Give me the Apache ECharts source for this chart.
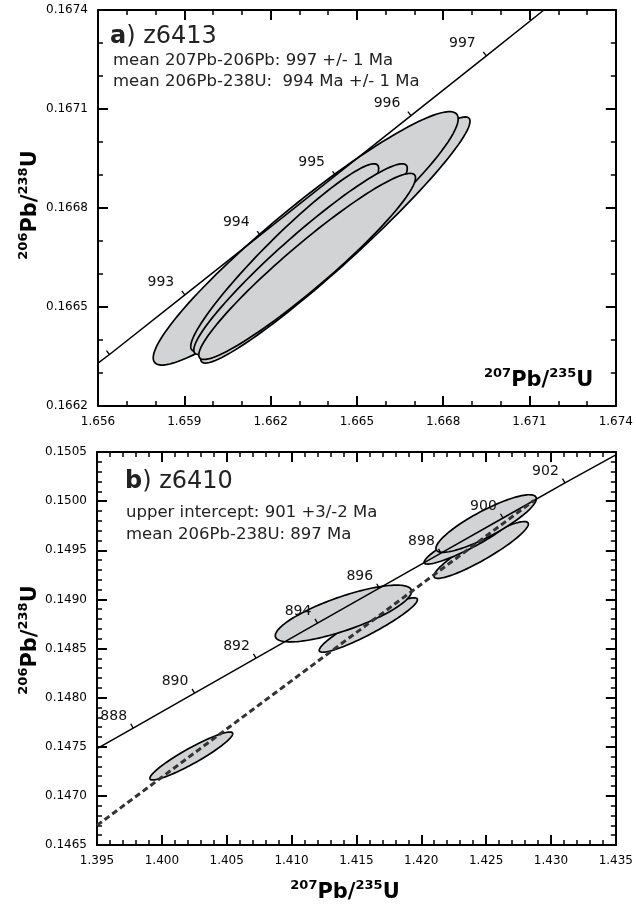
<!DOCTYPE html>
<html>
<head>
<meta charset="utf-8">
<script src="https://cdn.jsdelivr.net/npm/echarts@6.0.0/dist/echarts.min.js"></script>
<style>
  html, body { margin: 0; padding: 0; background: #fff; }
  #chart { width: 636px; height: 905px; }
</style>
</head>
<body>
<div id="chart"></div>
<script>
// ---- panel a (z6413) ----
const aLineStart = [1.656, 0.16633]
const aLineEnd = [1.6715, 0.1674]
const aAges = [992, 993, 994, 995, 996, 997]
const aAgeX = [1.6564, 1.65902, 1.66164, 1.66426, 1.66688, 1.6695]
const aAgeY = [0.166356, 0.166537, 0.166718, 0.166899, 0.16708, 0.167261]
const aAgeLabelled = [0, 1, 1, 1, 1, 1]
// cx, cy, 2s x, 2s y, rho  (drawing order)
const aEllipses = [
  [1.66425, 0.166703, 0.004682, 0.000373, 0.965],
  [1.66322, 0.166708, 0.005301, 0.000384, 0.943],
  [1.66249, 0.166650, 0.003267, 0.000284, 0.950],
  [1.66304, 0.166645, 0.003711, 0.000289, 0.952],
  [1.66327, 0.166623, 0.003767, 0.000282, 0.951]
]

// ---- panel b (z6410) ----
const bLineStart = [1.395, 0.14748]
const bLineEnd = [1.435, 0.15047]
const bAges = [888, 890, 892, 894, 896, 898, 900, 902]
const bAgeX = [1.39779, 1.40252, 1.40726, 1.41200, 1.41676, 1.42152, 1.42630, 1.43108]
const bAgeY = [0.147690, 0.148046, 0.148402, 0.148758, 0.149115, 0.149471, 0.149828, 0.150185]
const bDiscordia = [[1.395, 0.14670], [1.42869, 0.150006]]
const bEllipses = [
  [1.40227, 0.147406, 0.003192, 0.000244, 0.930],
  [1.41592, 0.148739, 0.003785, 0.000277, 0.928],
  [1.41400, 0.148856, 0.005254, 0.000289, 0.780],
  [1.42462, 0.149503, 0.003638, 0.000289, 0.915],
  [1.42350, 0.149589, 0.003277, 0.000230, 0.918],
  [1.42500, 0.149772, 0.003869, 0.000293, 0.862]
]

const FONT = 'DejaVu Sans'
const ELLIPSE_FILL = '#d2d3d5'

function ellipseItem(params, api) {
  const cx = api.value(0), cy = api.value(1)
  const sx = api.value(2), sy = api.value(3), r = api.value(4)
  const k = Math.sqrt(1 - r * r)
  const pts = []
  for (let i = 0; i < 120; i++) {
    const t = i / 120 * 2 * Math.PI
    pts.push(api.coord([cx + sx * Math.cos(t), cy + sy * (r * Math.cos(t) + k * Math.sin(t))]))
  }
  return {
    type: 'polygon',
    shape: { points: pts },
    style: { fill: ELLIPSE_FILL, stroke: '#000', lineWidth: 1.7 }
  }
}

function ageTicks(tick, lab) {
  return function(params, api) {
    const p = api.coord([api.value(0), api.value(1)])
    const children = [{
      type: 'line',
      shape: { x1: p[0], y1: p[1], x2: p[0] + tick[0], y2: p[1] + tick[1] },
      style: { stroke: '#000', lineWidth: 1.3 }
    }]
    if (api.value(3)) {
      children.push({
        type: 'text',
        style: {
          text: String(api.value(2)), x: p[0] + lab[0], y: p[1] + lab[1],
          align: 'center', verticalAlign: 'middle',
          fontFamily: FONT, fontSize: 14, fill: '#111'
        }
      })
    }
    return { type: 'group', children: children }
  }
}

function zip(xs, ys) {
  return xs.map((x, i) => [x, ys[i]])
}

function valueAxis(grid, min, max, step, split, digits, pos, labels) {
  return {
    type: 'value', gridIndex: grid, position: pos,
    min: min, max: max, interval: step,
    axisLine: { onZero: false, lineStyle: { color: '#000', width: 2 } },
    axisTick: { inside: true, length: 10, lineStyle: { color: '#000', width: 2 } },
    minorTick: { show: true, splitNumber: split, length: 5, lineStyle: { color: '#000', width: 1.5 } },
    splitLine: { show: false },
    minorSplitLine: { show: false },
    axisLabel: {
      show: labels, color: '#000', fontFamily: FONT, fontSize: 12, margin: 10,
      formatter: v => v.toFixed(digits)
    }
  }
}

const richTitle = {
  sup: { fontFamily: FONT, fontSize: 13, fontWeight: 'bold', verticalAlign: 'top', lineHeight: 13, fill: '#000' },
  m: { fontFamily: FONT, fontSize: 21, fontWeight: 'bold', lineHeight: 28, fill: '#000' }
}
const richHead = {
  b: { fontFamily: FONT, fontSize: 24, fontWeight: 'bold', fill: '#222' },
  n: { fontFamily: FONT, fontSize: 24, fill: '#222' }
}

function txt(x, y, text, size) {
  return {
    type: 'text', x: x, y: y,
    style: { text: text, fontFamily: FONT, fontSize: size, fill: '#222', align: 'left', verticalAlign: 'middle' }
  }
}

function head(x, y, letter, rest) {
  return {
    type: 'text', x: x, y: y,
    style: { text: '{b|' + letter + '}{n|' + rest + '}', rich: richHead, align: 'left', verticalAlign: 'middle' }
  }
}

function ratioTitle(x, y, top, bottom, align, rot) {
  return {
    type: 'text', x: x, y: y, rotation: rot,
    style: { text: '{sup|' + top + '}{m|Pb/}{sup|' + bottom + '}{m|U}', rich: richTitle, align: align, verticalAlign: 'middle' }
  }
}

const chart = echarts.init(document.getElementById('chart'), null, { renderer: 'canvas' })

const option = {
  animation: false,
  backgroundColor: '#fff',
  textStyle: { fontFamily: FONT },
  grid: [
    { left: 98, top: 10, width: 519, height: 396 },
    { left: 97, top: 452, width: 520, height: 393 }
  ],
  xAxis: [
    valueAxis(0, 1.656, 1.674, 0.003, 3, 3, 'bottom', true),
    valueAxis(0, 1.656, 1.674, 0.003, 3, 3, 'top', false),
    valueAxis(1, 1.395, 1.435, 0.005, 5, 3, 'bottom', true),
    valueAxis(1, 1.395, 1.435, 0.005, 5, 3, 'top', false)
  ],
  yAxis: [
    valueAxis(0, 0.1662, 0.1674, 0.0003, 3, 4, 'left', true),
    valueAxis(0, 0.1662, 0.1674, 0.0003, 3, 4, 'right', false),
    valueAxis(1, 0.1465, 0.1505, 0.0005, 5, 4, 'left', true),
    valueAxis(1, 0.1465, 0.1505, 0.0005, 5, 4, 'right', false)
  ],
  graphic: [
    head(110, 37, 'a', ') z6413'),
    txt(113, 61, 'mean 207Pb-206Pb: 997 +/- 1 Ma', 16.5),
    txt(113, 81.5, 'mean 206Pb-238U:  994 Ma +/- 1 Ma', 16.5),
    head(125, 482, 'b', ') z6410'),
    txt(126, 513, 'upper intercept: 901 +3/-2 Ma', 16.5),
    txt(126, 534.5, 'mean 206Pb-238U: 897 Ma', 16.5),
    ratioTitle(484, 381, '207', '235', 'left', 0),
    ratioTitle(345, 893, '207', '235', 'center', 0),
    ratioTitle(31, 205, '206', '238', 'center', Math.PI / 2),
    ratioTitle(31, 640, '206', '238', 'center', Math.PI / 2)
  ],
  series: [
    {
      type: 'custom', xAxisIndex: 0, yAxisIndex: 0, z: 2,
      renderItem: ellipseItem, data: aEllipses
    },
    {
      type: 'line', xAxisIndex: 0, yAxisIndex: 0, z: 3, symbol: 'none',
      lineStyle: { color: '#000', width: 1.5 },
      data: [aLineStart].concat(zip(aAgeX, aAgeY), [aLineEnd])
    },
    {
      type: 'custom', xAxisIndex: 0, yAxisIndex: 0, z: 4,
      renderItem: ageTicks([-3.1, -3.9], [-24, -12.5]),
      data: aAges.map((a, i) => [aAgeX[i], aAgeY[i], a, aAgeLabelled[i]])
    },
    {
      type: 'custom', xAxisIndex: 2, yAxisIndex: 2, z: 2,
      renderItem: ellipseItem, data: bEllipses
    },
    {
      type: 'line', xAxisIndex: 2, yAxisIndex: 2, z: 3, symbol: 'none',
      lineStyle: { color: '#000', width: 1.5 },
      data: [bLineStart].concat(zip(bAgeX, bAgeY), [bLineEnd])
    },
    {
      type: 'line', xAxisIndex: 2, yAxisIndex: 2, z: 3, symbol: 'none',
      lineStyle: { color: '#333', width: 3, type: [6, 3.5] },
      data: bDiscordia
    },
    {
      type: 'custom', xAxisIndex: 2, yAxisIndex: 2, z: 4,
      renderItem: ageTicks([-2.5, -4.3], [-19.5, -11.5]),
      data: bAges.map((a, i) => [bAgeX[i], bAgeY[i], a, 1])
    }
  ]
}

chart.setOption(option)
</script>
</body>
</html>
